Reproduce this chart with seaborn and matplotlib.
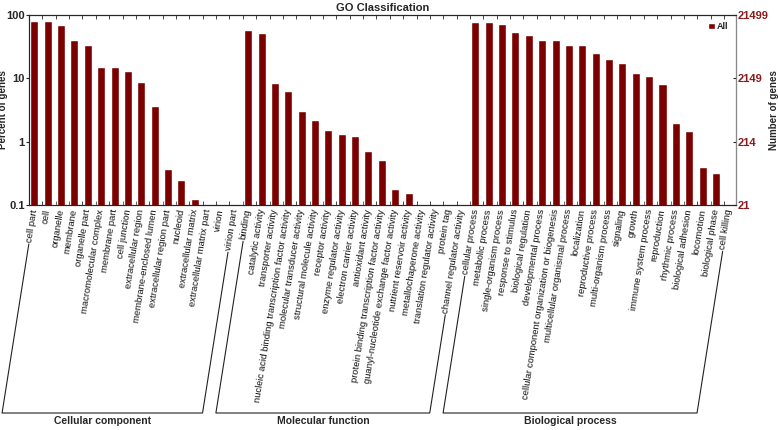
import numpy as np
import pandas as pd
import seaborn as sns
import matplotlib.pyplot as plt
from matplotlib import font_manager
from matplotlib.lines import Line2D
from matplotlib.transforms import blended_transform_factory

# GO terms, grouped by ontology
cc_terms = ["cell part", "cell", "organelle", "membrane", "organelle part",
            "macromolecular complex", "membrane part", "cell junction",
            "extracellular region", "membrane-enclosed lumen",
            "extracellular region part", "nucleoid", "extracellular matrix",
            "extracellular matrix part", "virion", "virion part"]
cc_pct = [80, 79, 70, 41, 34, 15, 15, 12.9, 8.7, 3.6,
          0.37, 0.245, 0.123, 0.05, 0.05, 0.05]

mf_terms = ["binding", "catalytic activity", "transporter activity",
            "nucleic acid binding transcription factor activity",
            "molecular transducer activity", "structural molecule activity",
            "receptor activity", "enzyme regulator activity",
            "electron carrier activity", "antioxidant activity",
            "protein binding transcription factor activity",
            "guanyl-nucleotide exchange factor activity",
            "nutrient reservoir activity", "metallochaperone activity",
            "translation regulator activity", "protein tag",
            "channel regulator activity"]
mf_pct = [57.5, 52.7, 8.4, 6.2, 3.1, 2.2, 1.55, 1.34, 1.22, 0.7,
          0.51, 0.18, 0.156, 0.05, 0.05, 0.05, 0.05]

bp_terms = ["cellular process", "metabolic process", "single-organism process",
            "response to stimulus", "biological regulation",
            "developmental process",
            "cellular component organization or biogenesis",
            "multicellular organismal process", "localization",
            "reproductive process", "multi-organism process", "signaling",
            "growth", "immune system process", "reproduction",
            "rhythmic process", "biological adhesion", "locomotion",
            "biological phase", "cell killing"]
bp_pct = [78.7, 78, 73, 54.7, 48.5, 40.4, 40.4, 33.7, 33.2, 25.5,
          20.5, 17.7, 12.2, 10.9, 8.1, 1.95, 1.46, 0.40, 0.316, 0.05]

group_names = ["Cellular component", "Molecular function", "Biological process"]
total_genes = 21499

terms = cc_terms + mf_terms + bp_terms
pct = cc_pct + mf_pct + bp_pct
df = pd.DataFrame({"term": terms, "percent": pct})

bar_color = "#7b0000"
sns.set_style("white")
names = {f.name for f in font_manager.fontManager.ttflist}
if "Liberation Sans Narrow" in names:
    fam, lab_size = "Liberation Sans Narrow", 7.2
else:
    fam, lab_size = "Liberation Sans", 6.8
plt.rcParams["font.family"] = [fam, "DejaVu Sans"]

fig = plt.figure(figsize=(7.78, 4.30), dpi=100)
ax = fig.add_axes([29 / 778, 1 - 205 / 430, (736 - 29) / 778, 190 / 430])

sns.barplot(data=df, x="term", y="percent", order=terms, color=bar_color,
            width=0.6, saturation=1, label="All", ax=ax)
ax.set_yscale("log")
ax.set_ylim(0.1, 100)
ax.set_xlim(-0.4, len(terms) - 0.5)
ax.set_yticks([100, 10, 1, 0.1])
ax.set_yticklabels(["100", "10", "1", "0.1"], fontsize=8, fontweight="bold")
ax.yaxis.set_minor_locator(plt.NullLocator())
ax.tick_params(axis="y", length=2, pad=1)
ax.set_xticks([])
ax.set_xticks(np.arange(len(terms)) - 0.4, minor=True)
ax.tick_params(axis="x", which="minor", direction="in", length=3,
               top=True, bottom=True, width=0.6)
ax.set_xlabel("")
ax.set_ylabel("Percent of genes", fontsize=7, fontweight="bold")
ax.yaxis.set_label_coords(-0.029, 0.5)
for s in ax.spines.values():
    s.set_linewidth(0.8)
    s.set_color("#222222")
ax.set_title("GO Classification", fontsize=8, fontweight="bold", pad=3)

leg = ax.legend(loc="upper right", frameon=False, fontsize=6.5,
                handlelength=0.7, handleheight=0.7, handletextpad=0.3,
                borderaxespad=0.4)
for t in leg.get_texts():
    t.set_fontweight("bold")

ax2 = ax.twinx()
ax2.set_yscale("log")
ax2.set_ylim(total_genes / 1000, total_genes)
rticks = [total_genes, total_genes / 10, total_genes / 100, total_genes / 1000]
ax2.set_yticks(rticks)
ax2.set_yticklabels([str(int(v)) for v in rticks], fontsize=8,
                    fontweight="bold", color="#8b1a1a")
ax2.yaxis.set_minor_locator(plt.NullLocator())
ax2.tick_params(axis="y", direction="in", length=2, pad=1)
ax2.set_ylabel("Number of genes", fontsize=7, fontweight="bold")
ax2.yaxis.set_label_coords(1.046, 0.5)
ax2.spines["right"].set_color("#888888")

# rotated category labels
theta = np.deg2rad(81)
trans = blended_transform_factory(ax.transData, ax.transAxes)
labels = []
for i, name in enumerate(terms):
    t = ax.text(i, -0.022, name, transform=trans, rotation=81,
                rotation_mode="anchor", ha="right", va="center",
                fontsize=lab_size, color="#111111")
    labels.append(t)

fig.canvas.draw()
renderer = fig.canvas.get_renderer()
W, H = fig.bbox.width, fig.bbox.height
u = np.array([np.cos(theta), np.sin(theta)])


def label_start(i):
    t = labels[i]
    anchor = trans.transform((i, -0.022))
    tmp = fig.text(0, 0, t.get_text(), fontproperties=t.get_fontproperties())
    L = tmp.get_window_extent(renderer).width
    tmp.remove()
    return anchor - (L + 2) * u


base_y = 17
sizes = [len(cc_terms), len(mf_terms), len(bp_terms)]
start = 0
for g, n in zip(group_names, sizes):
    a, b = start, start + n - 1
    sa, sb = label_start(a), label_start(b)
    ba = sa - (sa[1] - base_y) / u[1] * u
    bb = sb - (sb[1] - base_y) / u[1] * u
    xs = np.array([sa[0], ba[0], bb[0], sb[0]]) / W
    ys = np.array([sa[1], ba[1], bb[1], sb[1]]) / H
    fig.add_artist(Line2D(xs, ys, color="#222222", lw=0.8,
                          transform=fig.transFigure))
    fig.text((ba[0] + bb[0]) / 2 / W, (base_y - 3) / H, g, ha="center",
             va="top", fontsize=7.5, fontweight="bold")
    start += n

fig.savefig("out.png", dpi=100)
